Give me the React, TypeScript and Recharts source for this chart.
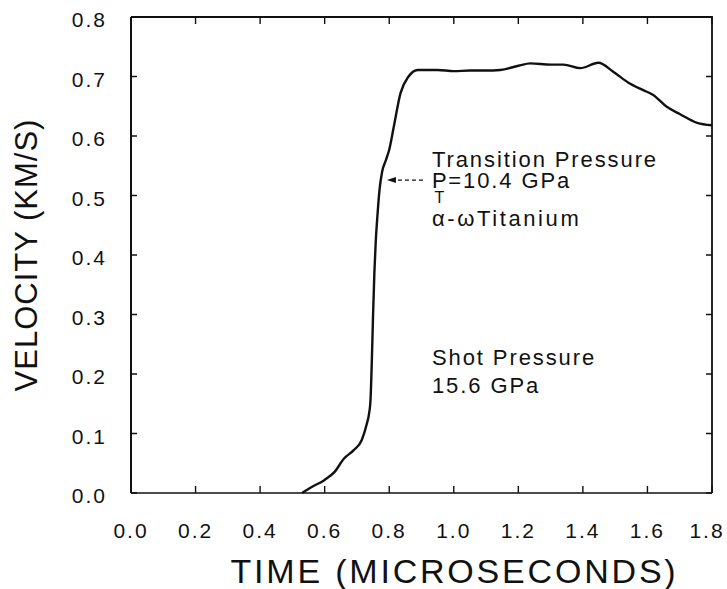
import React from "react";
import { LineChart, Line, XAxis, YAxis, ReferenceLine, ReferenceDot } from "recharts";

const timeUs = [0.53, 0.56, 0.6, 0.63, 0.66, 0.69, 0.715, 0.73, 0.738, 0.742, 0.746, 0.75, 0.754, 0.758, 0.764, 0.77, 0.778, 0.79, 0.8, 0.814, 0.835, 0.86, 0.888, 0.95, 1.0, 1.05, 1.1, 1.144, 1.2, 1.237, 1.3, 1.34, 1.392, 1.448, 1.494, 1.54, 1.587, 1.618, 1.66, 1.7, 1.754, 1.8];
const velocity = [0.0, 0.01, 0.022, 0.035, 0.058, 0.072, 0.089, 0.115, 0.135, 0.156, 0.22, 0.3, 0.37, 0.42, 0.47, 0.51, 0.54, 0.56, 0.577, 0.615, 0.672, 0.7, 0.711, 0.711, 0.709, 0.71, 0.71, 0.711, 0.718, 0.722, 0.72, 0.72, 0.714, 0.723, 0.708, 0.69, 0.677, 0.669, 0.649, 0.637, 0.622, 0.618];

const xTicks = [0, 0.2, 0.4, 0.6, 0.8, 1.0, 1.2, 1.4, 1.6, 1.8];
const yTicks = [0, 0.1, 0.2, 0.3, 0.4, 0.5, 0.6, 0.7, 0.8];
const X_MIN = 0;
const X_MAX = 1.8;
const Y_MIN = 0;
const Y_MAX = 0.8;

const arrowFrom = { t: 0.905, v: 0.526 };
const arrowTo = { t: 0.793, v: 0.526 };
const textX = 0.9325;
const transitionLines = [
  { v: 0.548, kind: "title", text: "Transition Pressure" },
  { v: 0.5126, kind: "pt", text: "=10.4 GPa" },
  { v: 0.4487, kind: "alpha", text: "\u03b1-\u03c9Titanium" },
];
const shotLines = [
  { v: 0.215, text: "Shot Pressure" },
  { v: 0.168, text: "15.6 GPa" },
];

const rows = timeUs.map((t, i) => ({ t, v: velocity[i] }));

// layout
const W = 727;
const H = 589;
const MARGIN_TOP = 17;
const MARGIN_RIGHT = 15;
const YAXIS_W = 131;
const XAXIS_H = 96;
const PLOT_L = YAXIS_W;
const PLOT_R = W - MARGIN_RIGHT;
const PLOT_T = MARGIN_TOP;
const PLOT_B = H - XAXIS_H;
const TICK = 7;

const FONT = "'Liberation Sans', Arial, Helvetica, sans-serif";
const INK = "#111";

const tickFont = { fontSize: 21, fill: INK, fontFamily: FONT, letterSpacing: 2 };
const annFont = { fontSize: 22, fill: INK, fontFamily: FONT, letterSpacing: 1.9 };

const fmt = (v: number) => Number(v).toFixed(1);

function BottomTick(props: any) {
  const { x, y, payload } = props;
  const cx = Math.min(x, 707);
  return (
    <text x={cx} y={y + 15} textAnchor="middle" {...tickFont}>{fmt(payload.value)}</text>
  );
}

function LeftTick(props: any) {
  const { x, y, payload } = props;
  return (
    <text x={x} y={y + 10} textAnchor="end" {...tickFont}>{fmt(payload.value)}</text>
  );
}

function AnnText(props: any) {
  const { viewBox, text, kind } = props;
  if (!viewBox) return null;
  const x = viewBox.x;
  const y = viewBox.y;
  if (kind === "pt") {
    return (
      <text x={x} y={y} {...annFont}>
        P
        <tspan dx={-14} dy={15} fontSize={16}>T</tspan>
        <tspan dx={2} dy={-15}>{text}</tspan>
      </text>
    );
  }
  return (
    <text x={x} y={y} {...annFont} letterSpacing={kind === "alpha" ? 2.6 : annFont.letterSpacing}>
      {text}
    </text>
  );
}

function ArrowShape(props: any) {
  const { x1, y1, x2, y2 } = props;
  if (x1 == null) return null;
  const tipX = Math.min(x1, x2);
  const tailX = Math.max(x1, x2);
  const y = y1;
  return (
    <g>
      <line x1={tipX + 4} y1={y} x2={tailX} y2={y2} stroke={INK} strokeWidth={1.3} strokeDasharray="4 3" />
      <path d={`M${tipX},${y} L${tipX + 9},${y - 3} L${tipX + 9},${y + 3} Z`} fill={INK} />
    </g>
  );
}

// Frame (top/right edges) and inward tick marks, laid over the chart's plot box
function FrameOverlay() {
  const sx = (t: number) => PLOT_L + ((t - X_MIN) / (X_MAX - X_MIN)) * (PLOT_R - PLOT_L);
  const sy = (v: number) => PLOT_B - ((v - Y_MIN) / (Y_MAX - Y_MIN)) * (PLOT_B - PLOT_T);
  const d: string[] = [];
  xTicks.forEach((t) => {
    const x = sx(t);
    d.push(`M${x},${PLOT_B} L${x},${PLOT_B - TICK}`);
    d.push(`M${x},${PLOT_T} L${x},${PLOT_T + TICK}`);
  });
  yTicks.forEach((v) => {
    const y = sy(v);
    d.push(`M${PLOT_L},${y} L${PLOT_L + TICK - 1},${y}`);
    d.push(`M${PLOT_R},${y} L${PLOT_R - TICK + 1},${y}`);
  });
  return (
    <svg
      width={W}
      height={H}
      style={{ position: "absolute", left: 0, top: 0, pointerEvents: "none", zIndex: 2 }}
    >
      <path d={`M${PLOT_L},${PLOT_T} L${PLOT_R},${PLOT_T} L${PLOT_R},${PLOT_B}`} stroke={INK} strokeWidth={1.8} fill="none" />
      <path d={d.join(" ")} stroke={INK} strokeWidth={1.4} fill="none" />
    </svg>
  );
}

export default function App() {
  return (
    <div style={{ position: "absolute", left: 0, top: 0, width: W, height: H, background: "#fff" }}>
      <LineChart width={W} height={H} margin={{ top: MARGIN_TOP, right: MARGIN_RIGHT, left: 0, bottom: 0 }}>
        <XAxis
          xAxisId="bottom"
          dataKey="t"
          type="number"
          domain={[X_MIN, X_MAX]}
          ticks={xTicks}
          orientation="bottom"
          height={XAXIS_H}
          axisLine={{ stroke: INK, strokeWidth: 1.6 }}
          tickLine={false}
          tickSize={0}
          tickMargin={30}
          tick={(p: any) => <BottomTick {...p} />}
          interval={0}
          label={{
            value: "TIME (MICROSECONDS)",
            position: "insideBottom",
            offset: 6,
            dx: 33,
            style: { fontSize: 34, fill: INK, fontFamily: FONT, letterSpacing: 2.8 },
          }}
        />
        <YAxis
          yAxisId="left"
          type="number"
          domain={[Y_MIN, Y_MAX]}
          ticks={yTicks}
          width={YAXIS_W}
          axisLine={{ stroke: INK, strokeWidth: 2 }}
          tickLine={false}
          tickSize={0}
          tickMargin={24}
          interval={0}
          tick={(p: any) => <LeftTick {...p} />}
          label={{
            content: (p: any) => {
              const vb = p.viewBox || { x: 0, y: 17, width: 131, height: 476 };
              const cx = vb.x + 37;
              const cy = vb.y + vb.height / 2;
              return (
                <text
                  x={cx}
                  y={cy}
                  textAnchor="middle"
                  transform={`rotate(-90 ${cx} ${cy})`}
                  fontSize={31}
                  fill={INK}
                  fontFamily={FONT}
                  letterSpacing={1}
                >
                  VELOCITY (KM/S)
                </text>
              );
            },
          }}
        />
        <Line
          xAxisId="bottom"
          yAxisId="left"
          data={rows}
          dataKey="v"
          type="monotone"
          stroke={INK}
          strokeWidth={2.4}
          dot={false}
          activeDot={false}
          isAnimationActive={false}
        />
        <ReferenceLine
          xAxisId="bottom"
          yAxisId="left"
          segment={[
            { x: arrowTo.t, y: arrowTo.v },
            { x: arrowFrom.t, y: arrowFrom.v },
          ]}
          shape={ArrowShape}
        />
        {transitionLines.map((l, i) => (
          <ReferenceDot
            key={"tr" + i}
            xAxisId="bottom"
            yAxisId="left"
            x={textX}
            y={l.v}
            r={0}
            fill="none"
            stroke="none"
            label={{ content: (p: any) => <AnnText {...p} text={l.text} kind={l.kind} /> }}
          />
        ))}
        {shotLines.map((l, i) => (
          <ReferenceDot
            key={"sh" + i}
            xAxisId="bottom"
            yAxisId="left"
            x={textX}
            y={l.v}
            r={0}
            fill="none"
            stroke="none"
            label={{ content: (p: any) => <AnnText {...p} text={l.text} kind="plain" /> }}
          />
        ))}
      </LineChart>
      <FrameOverlay />
    </div>
  );
}
